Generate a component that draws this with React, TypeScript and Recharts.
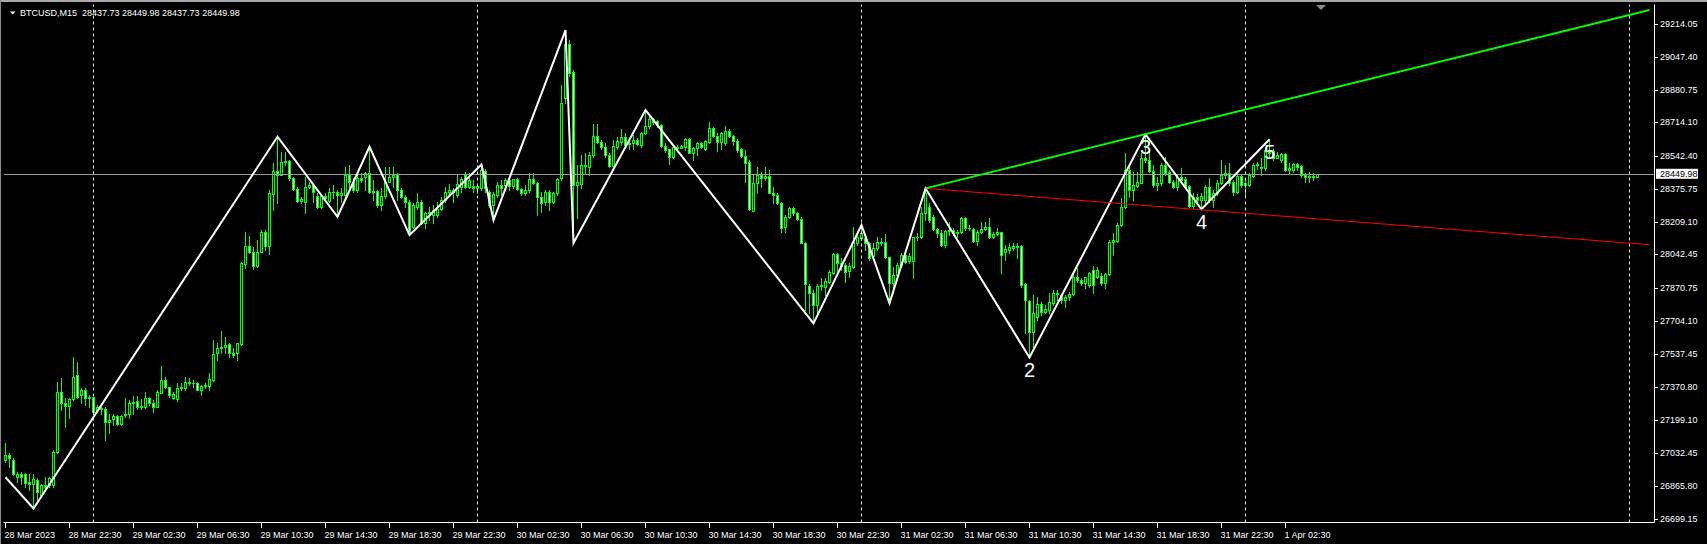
import React from 'react';
import { ComposedChart, Bar, Line, XAxis, YAxis, ReferenceLine } from 'recharts';

const FONT = '"Liberation Sans", Arial, sans-serif';
const SLOTS = 412;
const LABEL_STEP = 16;

const timeLabels = [
  '28 Mar 2023', '28 Mar 22:30', '29 Mar 02:30', '29 Mar 06:30', '29 Mar 10:30', '29 Mar 14:30',
  '29 Mar 18:30', '29 Mar 22:30', '30 Mar 02:30', '30 Mar 06:30', '30 Mar 10:30', '30 Mar 14:30',
  '30 Mar 18:30', '30 Mar 22:30', '31 Mar 02:30', '31 Mar 06:30', '31 Mar 10:30', '31 Mar 14:30',
  '31 Mar 18:30', '31 Mar 22:30', '1 Apr 02:30',
];

const priceTicks = [
  29214.05, 29047.4, 28880.75, 28714.1, 28542.4, 28375.75, 28209.1, 28042.45,
  27870.75, 27704.1, 27537.45, 27370.8, 27199.1, 27032.45, 26865.8, 26699.15,
];
const BID = 28449.98;
const Y_DOMAIN: [number, number] = [26680, 29313];

const dayGrid = [22, 118, 214, 310, 406];

// [open, high, low, close] per 15-minute bar
const candles: number[][] = [
  [26997,27082,26989,27022],[27022,27031,26963,27006],[27000,27006,26921,26926],[26909,26938,26887,26926],
  [26926,26938,26878,26909],[26926,26933,26862,26882],[26887,26929,26845,26878],[26878,26929,26751,26900],
  [26895,26904,26794,26836],[26819,26875,26811,26870],[26870,26912,26845,26862],[26870,26912,26862,26904],
  [26873,27048,26862,27040],[27036,27395,27031,27345],[27345,27412,27251,27285],[27285,27311,27167,27272],
  [27272,27311,27209,27306],[27306,27519,27302,27421],[27428,27497,27311,27319],[27328,27362,27285,27356],
  [27356,27362,27277,27311],[27311,27328,27268,27319],[27319,27319,27234,27243],[27251,27277,27243,27268],
  [27263,27268,27234,27255],[27255,27265,27099,27192],[27192,27234,27133,27200],[27204,27234,27175,27221],
  [27221,27226,27175,27179],[27179,27226,27175,27221],[27226,27311,27217,27234],[27234,27302,27212,27285],
  [27285,27323,27234,27294],[27297,27323,27255,27265],[27265,27306,27255,27272],[27268,27345,27260,27314],
  [27314,27319,27277,27285],[27285,27302,27243,27268],[27268,27353,27265,27345],[27339,27476,27336,27404],
  [27404,27421,27362,27367],[27367,27370,27316,27328],[27311,27345,27306,27333],[27307,27387,27299,27362],
  [27362,27387,27353,27370],[27362,27418,27356,27395],[27395,27412,27379,27387],[27387,27404,27370,27390],
  [27390,27395,27353,27356],[27356,27378,27328,27373],[27373,27387,27362,27378],[27373,27438,27353,27407],
  [27404,27607,27400,27534],[27540,27590,27506,27568],[27568,27653,27540,27573],[27573,27624,27540,27582],
  [27585,27590,27522,27540],[27540,27565,27522,27531],[27540,27592,27506,27590],[27587,28006,27582,27997],
  [27994,28158,27972,28087],[28087,28136,28048,28053],[28056,28082,27968,27985],[27985,28116,27980,28056],
  [28056,28167,28053,28155],[28155,28167,28065,28087],[28087,28370,28043,28353],[28350,28506,28268,28468],
  [28468,28641,28302,28446],[28446,28565,28446,28511],[28511,28565,28497,28518],[28518,28523,28421,28429],
  [28429,28438,28370,28373],[28373,28387,28311,28316],[28316,28336,28302,28324],[28307,28438,28251,28387],
  [28387,28412,28378,28395],[28395,28396,28311,28362],[28340,28353,28277,28282],[28282,28345,28277,28340],
  [28340,28353,28319,28328],[28314,28378,28311,28362],[28362,28396,28328,28358],[28358,28370,28234,28345],
  [28345,28378,28310,28356],[28345,28488,28336,28446],[28446,28497,28370,28412],[28412,28429,28361,28370],
  [28370,28446,28361,28429],[28429,28454,28412,28420],[28434,28463,28370,28454],[28454,28590,28353,28361],
  [28361,28420,28319,28364],[28364,28370,28285,28293],[28293,28378,28268,28339],[28339,28488,28327,28412],
  [28412,28488,28412,28437],[28437,28488,28386,28446],[28446,28454,28319,28370],[28370,28378,28327,28336],
  [28336,28344,28285,28310],[28310,28319,28141,28158],[28183,28302,28175,28293],[28285,28353,28276,28310],
  [28310,28319,28197,28200],[28200,28259,28175,28254],[28254,28285,28217,28259],[28242,28293,28200,28268],
  [28242,28310,28234,28276],[28276,28336,28268,28319],[28319,28386,28310,28361],[28361,28403,28344,28370],
  [28370,28378,28310,28361],[28344,28451,28336,28403],[28386,28437,28361,28424],[28446,28463,28378,28386],
  [28386,28454,28378,28420],[28390,28420,28361,28378],[28378,28403,28353,28390],[28378,28500,28370,28471],
  [28468,28475,28361,28378],[28361,28370,28285,28293],[28293,28361,28217,28348],[28344,28412,28336,28395],
  [28395,28420,28344,28378],[28395,28429,28370,28420],[28420,28429,28370,28390],[28390,28424,28378,28424],
  [28424,28429,28370,28373],[28373,28378,28344,28353],[28353,28395,28344,28370],[28370,28454,28361,28424],
  [28424,28454,28403,28408],[28408,28412,28242,28336],[28336,28361,28259,28305],[28310,28370,28293,28361],
  [28361,28370,28268,28310],[28310,28361,28302,28353],[28353,28429,28344,28424],[28429,28904,28420,28810],
  [28836,29183,28812,29113],[29113,29132,28950,28963],[28970,28980,28101,28396],[28395,28497,28226,28412],
  [28403,28548,28378,28497],[28497,28556,28454,28490],[28488,28565,28446,28548],[28548,28705,28539,28644],
  [28644,28705,28610,28615],[28615,28624,28581,28590],[28590,28607,28539,28548],[28548,28556,28488,28493],
  [28493,28624,28488,28593],[28590,28641,28581,28620],[28615,28678,28598,28637],[28637,28658,28590,28598],
  [28602,28632,28581,28610],[28610,28649,28581,28624],[28624,28632,28598,28604],[28598,28666,28590,28658],
  [28658,28776,28654,28695],[28695,28742,28683,28729],[28729,28734,28708,28717],[28722,28726,28692,28700],
  [28700,28708,28590,28593],[28593,28607,28564,28573],[28576,28581,28502,28539],[28536,28590,28531,28587],
  [28587,28599,28577,28582],[28582,28599,28582,28594],[28587,28633,28573,28628],[28628,28633,28556,28560],
  [28560,28590,28522,28582],[28582,28616,28548,28607],[28607,28616,28582,28587],[28578,28624,28573,28619],
  [28616,28714,28607,28684],[28684,28689,28641,28646],[28646,28658,28570,28616],[28616,28667,28577,28658],
  [28607,28695,28599,28672],[28672,28678,28641,28646],[28646,28650,28599,28621],[28621,28628,28565,28573],
  [28577,28582,28539,28543],[28545,28573,28412,28509],[28514,28522,28268,28272],[28265,28446,28265,28404],
  [28404,28489,28353,28446],[28446,28463,28387,28429],[28429,28485,28421,28441],[28441,28472,28353,28356],
  [28356,28387,28302,28345],[28345,28353,28299,28302],[28302,28310,28158,28178],[28183,28243,28158,28234],
  [28231,28285,28226,28277],[28277,28285,28243,28251],[28251,28260,28217,28221],[28221,28231,28099,28102],
  [28102,28107,27760,27890],[27883,27890,27743,27845],[27845,27861,27692,27785],[27785,27890,27734,27883],
  [27883,27921,27861,27887],[27878,27921,27836,27907],[27904,27963,27895,27955],[27950,28051,27943,28045],
  [28045,28048,27955,27997],[27997,28022,27963,27984],[27989,27997,27904,27955],[27960,27997,27929,27984],
  [27980,28184,27972,28107],[28102,28158,28090,28133],[28124,28192,28116,28153],[28124,28133,28065,28099],
  [28099,28107,28014,28022],[28034,28099,28031,28073],[28073,28133,28065,28107],[28107,28124,28090,28102],
  [28107,28146,28022,28028],[28028,28031,27794,27899],[27899,27980,27845,27938],[27938,27997,27912,27989],
  [27989,28048,27980,28040],[28040,28048,27997,28006],[28010,28048,27997,28034],[28010,28133,27921,28129],
  [28129,28153,28116,28133],[28129,28285,28124,28251],[28251,28378.5,28217,28353],[28285,28302,28209,28217],
  [28234,28243,28167,28170],[28170,28175,28133,28153],[28153,28166,28085,28090],[28090,28166,28082,28163],
  [28163,28209,28141,28166],[28166,28175,28141,28150],[28150,28166,28133,28158],[28158,28234,28150,28226],
  [28226,28234,28166,28175],[28175,28192,28166,28178],[28170,28175,28107,28112],[28112,28166,28090,28158],
  [28158,28209,28150,28170],[28170,28209,28166,28184],[28184,28226,28124,28133],[28133,28158,28124,28146],
  [28146,28175,28141,28155],[28155,28158,27946,28039],[28056,28090,28014,28068],[28065,28099,28048,28082],
  [28073,28099,28065,28087],[28087,28099,28022,28082],[28087,28090,27878,27887],[27890,27895,27641,27810],
  [27805,27810,27519,27650],[27650,27836,27556,27743],[27726,27828,27709,27790],[27790,27802,27734,27751],
  [27751,27785,27743,27763],[27760,27845,27743,27802],[27797,27861,27785,27848],[27848,27861,27810,27840],
  [27836,27844,27794,27810],[27810,27836,27777,27828],[27824,27853,27810,27841],[27841,27946,27836,27929],
  [27929,27972,27904,27912],[27912,27921,27887,27895],[27895,27929,27870,27926],[27887,27955,27878,27950],
  [27963,27983,27845,27887],[27929,27980,27921,27963],[27934,27946,27887,27895],[27895,27950,27870,27943],
  [27943,28116,27938,28107],[28107,28150,28039,28116],[28112,28200,28107,28192],[28192,28328,28187,28285],
  [28282,28556,28277,28472],[28472,28489,28336,28370],[28370,28463,28319,28395],[28390,28463,28387,28412],
  [28407,28556,28404,28531],[28531,28653,28514,28523],[28523,28573,28463,28467],[28467,28497,28387,28395],
  [28395,28438,28370,28404],[28404,28506,28395,28497],[28497,28540,28446,28455],[28463,28472,28404,28412],
  [28412,28421,28378,28384],[28384,28451,28370,28434],[28434,28480,28412,28421],[28426,28438,28378,28387],
  [28390,28395,28285,28289],[28289,28353,28277,28336],[28336,28348,28311,28319],[28319,28353,28272,28339],
  [28319,28395,28302,28387],[28387,28429,28311,28319],[28319,28370,28285,28356],[28356,28421,28345,28407],
  [28404,28522,28400,28446],[28446,28497,28429,28458],[28458,28506,28395,28404],[28412,28421,28345,28362],
  [28362,28451,28353,28441],[28441,28451,28387,28395],[28395,28421,28345,28404],[28395,28455,28390,28446],
  [28441,28509,28434,28497],[28497,28514,28475,28502],[28488,28531,28446,28480],[28480,28590,28472,28573],
  [28573,28628,28536,28556],[28570,28577,28522,28531],[28531,28565,28531,28548],[28523,28560,28514,28553],
  [28553,28560,28468,28472],[28472,28506,28458,28480],[28472,28509,28463,28502],[28502,28509,28472,28489],
  [28492,28497,28438,28446],[28446,28455,28412,28438],[28438,28463,28412,28441],[28441,28455,28421,28437.73],
  [28437.73,28449.98,28437.73,28449.98],
];

// ZigZag vertices: [bar index, price]
const zigzag: number[][] = [
  [0, 26910], [7, 26751], [68, 28641], [83, 28234], [91, 28590], [101, 28141], [119, 28500],
  [122, 28217], [140, 29183], [142, 28101], [160, 28776], [202, 27692], [214, 28192], [221, 27794],
  [230, 28378.5], [256, 27519], [285, 28653], [299, 28272], [316, 28628],
];

const waveLabels = [
  { i: 256, text: '2' },
  { i: 285, text: '3' },
  { i: 299, text: '4' },
  { i: 316, text: '5' },
];

const greenTrend: number[][] = [[230, 28378.5], [411, 29285]];
const redTrend: number[][] = [[230, 28378.5], [411, 28092]];

const rows: any[] = Array.from({ length: SLOTS }, (_, i) => {
  const row: any = { i };
  const k = candles[i];
  if (k) {
    row.o = k[0]; row.h = k[1]; row.l = k[2]; row.c = k[3];
    row.range = [k[2], k[1]];
  }
  return row;
});
zigzag.forEach(([i, v]) => { rows[i].zz = v; });
greenTrend.forEach(([i, v]) => { rows[i].gl = v; });
redTrend.forEach(([i, v]) => { rows[i].rl = v; });
waveLabels.forEach(({ i, text }) => {
  const z = zigzag.find((p) => p[0] === i);
  if (z) { rows[i].wl = z[1]; rows[i].wt = text; }
});

const labelMap = new Map<number, string>();
timeLabels.forEach((t, k) => labelMap.set(k * LABEL_STEP, t));
const xTicks = timeLabels.map((_, k) => k * LABEL_STEP);

const LIME = '#00ff00';

const Candle = (props: any) => {
  const { x, y, width, height, payload } = props;
  if (!payload || payload.o == null || x == null || y == null) return <g />;
  const c = Math.floor(x + width / 2) + 0.5;
  const top = Math.min(y, y + height);
  const bot = Math.max(y, y + height);
  const span = payload.h - payload.l;
  const py = (v: number) => (span > 0 ? top + ((payload.h - v) / span) * (bot - top) : top);
  const yo = py(payload.o);
  const yc = py(payload.c);
  const bull = payload.c >= payload.o;
  const b1 = Math.round(Math.min(yo, yc)) + 0.5;
  const b2 = Math.max(Math.round(Math.max(yo, yc)) + 0.5, b1);
  return (
    <g shapeRendering="crispEdges">
      <line x1={c} x2={c} y1={Math.round(top)} y2={Math.round(bot) + 1} stroke={LIME} strokeWidth={1} />
      {b2 - b1 >= 1 ? (
        <rect x={c - 1} y={b1} width={2} height={b2 - b1} fill={bull ? '#000000' : '#ffffff'} stroke={LIME} strokeWidth={1} />
      ) : (
        <line x1={c - 1.5} x2={c + 1.5} y1={b1} y2={b1} stroke={LIME} strokeWidth={1} />
      )}
    </g>
  );
};

const XTick = (props: any) => {
  const { x, y, payload } = props;
  const lab = labelMap.get(Number(payload?.value));
  if (!lab) return <g />;
  return (
    <g>
      <line x1={Math.floor(x) + 0.5} x2={Math.floor(x) + 0.5} y1={y} y2={y + 5} stroke="#ffffff" shapeRendering="crispEdges" />
      <text x={x - 1} y={y + 13} dy="0.33em" textAnchor="start" fontSize={9} fontFamily={FONT} fill="#ffffff">{lab}</text>
    </g>
  );
};

const YTick = (props: any) => {
  const { x, y, payload } = props;
  const v = Number(payload?.value);
  if (v === BID) {
    return (
      <g>
        <rect x={x + 1.5} y={y - 5.5} width={42} height={10} fill="#ffffff" />
        <text x={x + 5.5} y={y} dy="0.33em" textAnchor="start" fontSize={9} fontFamily={FONT} fill="#000000">{v.toFixed(2)}</text>
      </g>
    );
  }
  return (
    <g>
      <line x1={x} x2={x + 3} y1={Math.round(y) + 0.5} y2={Math.round(y) + 0.5} stroke="#ffffff" shapeRendering="crispEdges" />
      <text x={x + 5.5} y={y} dy="0.33em" textAnchor="start" fontSize={9} fontFamily={FONT} fill="#ffffff">{v.toFixed(2)}</text>
    </g>
  );
};

const WaveLabel = (p: any) => {
  const { cx, cy, payload, index } = p;
  if (!payload || !payload.wt || cy == null || cx == null) return <g key={`w${index}`} />;
  return (
    <text key={`w${index}`} x={cx} y={cy + 13} dy="0.35em" textAnchor="middle" fontSize={20} fontFamily={FONT} fill="#ffffff">
      {payload.wt}
    </text>
  );
};

export default function App() {
  return (
    <div style={{ position: 'fixed', left: 0, top: 0, width: 1707, height: 544, background: '#000000', overflow: 'hidden' }}>
      <ComposedChart
        width={1707}
        height={544}
        data={rows}
        margin={{ top: 4.5, right: 0, bottom: 0, left: 3.5 }}
        style={{ fontFamily: FONT }}
      >
        <XAxis
          dataKey="i"
          type="category"
          height={21.5}
          padding={{ left: 0, right: 3 }}
          axisLine={{ stroke: '#ffffff' }}
          tickLine={false}
          tickSize={0}
          tickMargin={0}
          ticks={xTicks}
          interval={0}
          tick={<XTick />}
        />
        <XAxis xAxisId="top" dataKey="i" orientation="top" height={0} padding={{ left: 0, right: 3 }}
          axisLine={{ stroke: '#ffffff' }} tick={false} tickLine={false} />
        <YAxis
          orientation="right"
          width={52.5}
          domain={Y_DOMAIN}
          allowDataOverflow
          type="number"
          ticks={[...priceTicks, BID]}
          interval={0}
          axisLine={{ stroke: '#ffffff' }}
          tickLine={false}
          tickSize={0}
          tickMargin={0}
          tick={<YTick />}
        />
        <YAxis yAxisId="left" orientation="left" width={0} domain={Y_DOMAIN} allowDataOverflow type="number"
          axisLine={{ stroke: '#ffffff' }} tick={false} tickLine={false} />
        {dayGrid.map((d) => (
          <ReferenceLine key={`g${d}`} x={d} stroke="#e6e6e6" strokeDasharray="3 3" strokeWidth={1} />
        ))}
        <ReferenceLine y={BID} stroke="#9a9a9a" strokeWidth={1} shapeRendering="crispEdges" />
        <Bar dataKey="range" shape={<Candle />} isAnimationActive={false} />
        <Line dataKey="zz" type="linear" stroke="#ffffff" strokeWidth={2} dot={false} activeDot={false}
          connectNulls isAnimationActive={false} />
        <Line dataKey="rl" type="linear" stroke="#ff0000" strokeWidth={1} dot={false} activeDot={false}
          connectNulls isAnimationActive={false} />
        <Line dataKey="gl" type="linear" stroke="#00ff00" strokeWidth={2} dot={false} activeDot={false}
          connectNulls isAnimationActive={false} />
        <Line dataKey="wl" type="linear" stroke="none" strokeWidth={0} dot={WaveLabel} activeDot={false}
          isAnimationActive={false} />
      </ComposedChart>
      <svg width={1707} height={544} style={{ position: 'absolute', left: 0, top: 0, pointerEvents: 'none' }}>
        <rect x={0} y={0} width={1707} height={2} fill="#a8a8a8" />
        <rect x={0} y={0} width={1} height={544} fill="#8c8c8c" />
        <polygon points="10,11.5 15.5,11.5 12.75,14.5" fill="#ffffff" />
        <text x={20} y={15.5} fontSize={9} fontFamily={FONT} fill="#ffffff" style={{ whiteSpace: 'pre' }}>
          {'BTCUSD,M15  28437.73 28449.98 28437.73 28449.98'}
        </text>
        <polygon points="1316,5 1326,5 1321,10" fill="#8c8c8c" />
      </svg>
    </div>
  );
}
